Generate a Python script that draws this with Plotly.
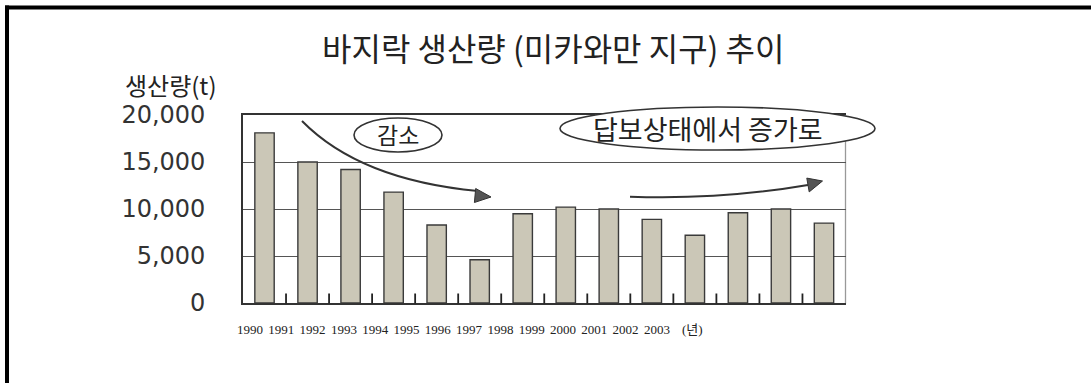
import plotly.graph_objects as go

# ---- data ----
years = ["1990", "1991", "1992", "1993", "1994", "1995", "1996",
         "1997", "1998", "1999", "2000", "2001", "2002", "2003"]
production = [18100, 15000, 14200, 11800, 8300, 4600, 9500,
              10200, 10000, 8900, 7200, 9600, 10000, 8500]
year_labels = years + ["(년)"]
y_ticks = [0, 5000, 10000, 15000, 20000]

title_text = "바지락 생산량 (미카와만 지구) 추이"
y_title = "생산량(t)"
note_down = "감소"
note_up = "답보상태에서 증가로"

# ---- geometry helpers (pixel -> paper) ----
W, H = 1091, 383
ML, MR, MT, MB = 200, 200, 115, 80
PW, PH = W - ML - MR, H - MT - MB
PLOT_L, PLOT_R, PLOT_B = 243.0, 845.5, 303.5


def px(x):
    return (x - ML) / PW


def py(y):
    return 1 - (y - MT) / PH


fig = go.Figure()

fig.add_trace(go.Bar(
    x=years, y=production,
    marker=dict(color="#cbc7b7", line=dict(color="#3a3a3a", width=1.4)),
    xaxis="x", yaxis="y", hoverinfo="x+y",
))

# invisible helper trace so the compressed label axis exists
label_pos = list(range(len(years))) + [len(years) + 0.13]
fig.add_trace(go.Scatter(
    x=label_pos, y=[None] * len(label_pos), mode="markers",
    marker=dict(opacity=0), xaxis="x2", yaxis="y2",
    hoverinfo="skip", showlegend=False,
))

shapes = []
# small inside ticks at category boundaries
cat_w = (PLOT_R - PLOT_L) / len(years)
for i in range(1, len(years)):
    bx = px(PLOT_L + i * cat_w)
    shapes.append(dict(type="line", xref="paper", yref="paper", layer="above",
                       x0=bx, x1=bx, y0=py(PLOT_B), y1=py(PLOT_B - 10),
                       line=dict(color="#222", width=1.8)))
# ellipses
shapes.append(dict(type="circle", xref="paper", yref="paper",
                   x0=px(354), x1=px(442), y0=py(152), y1=py(118),
                   fillcolor="white", line=dict(color="#333", width=1.6), layer="above"))
shapes.append(dict(type="circle", xref="paper", yref="paper",
                   x0=px(560), x1=px(875), y0=py(150), y1=py(107),
                   fillcolor="white", line=dict(color="#333", width=1.6), layer="above"))


def qpath(p0, c, p1):
    return "M {},{} Q {},{} {},{}".format(px(p0[0]), py(p0[1]), px(c[0]), py(c[1]),
                                           px(p1[0]), py(p1[1]))


def tri(a, b, c):
    return "M {},{} L {},{} L {},{} Z".format(px(a[0]), py(a[1]), px(b[0]), py(b[1]),
                                               px(c[0]), py(c[1]))


# curved arrow 1 (decrease)
shapes.append(dict(type="path", xref="paper", yref="paper",
                   path=qpath((302, 121), (360, 180), (478, 191)),
                   line=dict(color="#333", width=2), layer="above"))
shapes.append(dict(type="path", xref="paper", yref="paper",
                   path=tri((491, 197), (474.4, 202.5), (475.7, 188.5)),
                   fillcolor="#555", line=dict(color="#333", width=1), layer="above"))
# curved arrow 2 (increase)
shapes.append(dict(type="path", xref="paper", yref="paper",
                   path=qpath((630, 196.7), (720, 200), (808, 185)),
                   line=dict(color="#333", width=2), layer="above"))
shapes.append(dict(type="path", xref="paper", yref="paper",
                   path=tri((822.5, 181), (809.2, 191.9), (806.8, 178.1)),
                   fillcolor="#555", line=dict(color="#333", width=1), layer="above"))
# right border of the plot (light gray)
shapes.append(dict(type="line", xref="paper", yref="paper",
                   x0=px(PLOT_R), x1=px(PLOT_R), y0=py(PLOT_B), y1=py(115),
                   line=dict(color="#999", width=1.3), layer="below"))
# black page frame (top and left)
shapes.append(dict(type="line", xref="paper", yref="paper",
                   x0=px(5), x1=px(1095), y0=py(7.5), y1=py(7.5),
                   line=dict(color="black", width=4)))
shapes.append(dict(type="line", xref="paper", yref="paper",
                   x0=px(7), x1=px(7), y0=py(5.5), y1=py(390),
                   line=dict(color="black", width=4)))

annotations = [
    dict(text=title_text, xref="paper", yref="paper", x=px(553), y=py(47),
         showarrow=False, xanchor="center", yanchor="middle",
         font=dict(family="Noto Sans CJK KR", size=32, color="#222")),
    dict(text=y_title, xref="paper", yref="paper", x=px(171), y=py(84),
         showarrow=False, xanchor="center", yanchor="middle",
         font=dict(family="Noto Sans CJK KR", size=24, color="#222")),
    dict(text=note_down, xref="paper", yref="paper", x=px(398), y=py(134),
         showarrow=False, xanchor="center", yanchor="middle",
         font=dict(family="Noto Sans CJK KR", size=23, color="#222")),
    dict(text=note_up, xref="paper", yref="paper", x=px(708), y=py(128),
         showarrow=False, xanchor="center", yanchor="middle",
         font=dict(family="Noto Sans CJK KR", size=27, color="#222")),
]

xdom = [px(PLOT_L), px(PLOT_R)]
lab0, labstep = 250.0, 31.3

fig.update_layout(
    width=W, height=H,
    margin=dict(l=ML, r=MR, t=MT, b=MB, pad=0),
    paper_bgcolor="white", plot_bgcolor="rgba(0,0,0,0)",
    showlegend=False, bargap=0.55,
    shapes=shapes, annotations=annotations,
    xaxis=dict(domain=xdom, type="category", showticklabels=False, ticks="",
               showline=True, linecolor="#333", linewidth=1.6, mirror=True,
               showgrid=False, zeroline=False, anchor="y"),
    yaxis=dict(domain=[0, 1], range=[0, 20000], tickvals=y_ticks, tickformat=",",
               showgrid=True, gridcolor="#555", gridwidth=1.4,
               showline=True, linecolor="#333", linewidth=1.6,
               zeroline=False, ticks="", ticklabelstandoff=31,
               tickfont=dict(family="DejaVu Sans", size=24, color="#333"),
               anchor="x"),
    xaxis2=dict(domain=[px(lab0 - 0.5 * labstep), px(lab0 + 14.5 * labstep)],
                range=[-0.5, len(years) + 0.5],
                tickvals=label_pos, ticktext=year_labels, anchor="y2",
                tickangle=0, automargin=False,
                showgrid=False, zeroline=False, showline=False, ticks="",
                ticklabelstandoff=17,
                tickfont=dict(family="Liberation Serif, Noto Sans CJK KR", size=13, color="#222")),
    yaxis2=dict(domain=[0, 1], range=[0, 1], visible=False, anchor="x2"),
)

fig.write_html("out.html", config={"displayModeBar": False},
               post_script="document.body.style.margin='0';document.body.style.overflow='hidden';")
